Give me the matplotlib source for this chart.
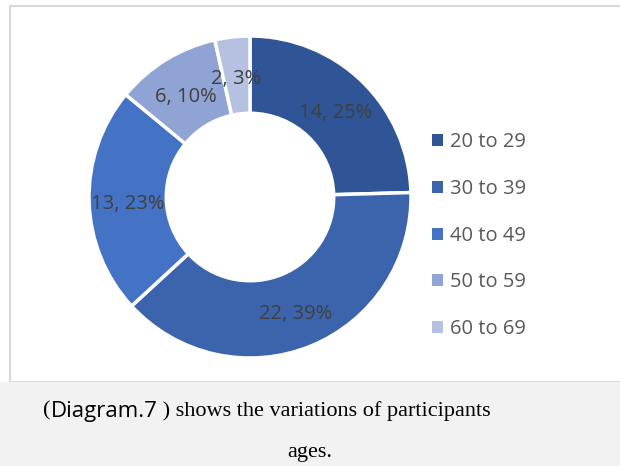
import matplotlib.pyplot as plt
from matplotlib.patches import Rectangle

# data
groups = ["20 to 29", "30 to 39", "40 to 49", "50 to 59", "60 to 69"]
counts = [14, 22, 13, 6, 2]
pcts = [25, 39, 23, 10, 3]
colors = ["#2f5597", "#3b64ad", "#4472c4", "#8fa3d4", "#b6c1e1"]

W, H = 620, 466
fig = plt.figure(figsize=(W / 100, H / 100), dpi=100)
fig.patch.set_facecolor("white")

# chart frame and caption band (behind the axes)
fig.add_artist(Rectangle((10 / W, 1 - 382 / H), 1, 376 / H, transform=fig.transFigure,
                         facecolor="white", edgecolor="#d9d9d9", linewidth=1.5, zorder=-2))
fig.add_artist(Rectangle((0, 0), 1, 1 - 382 / H, transform=fig.transFigure,
                         facecolor="#f2f2f2", edgecolor="none", zorder=-1))

# donut: center ~ (250,197), outer radius ~161 px
cx, cy, r = 250, 197, 161
ax = fig.add_axes([(cx - r) / W, 1 - (cy + r) / H, 2 * r / W, 2 * r / H])
ax.patch.set_visible(False)
labels = [f"{c}, {p}%" for c, p in zip(counts, pcts)]
wedges, texts = ax.pie(counts, colors=colors, startangle=90, counterclock=False,
                       labels=labels, labeldistance=0.76,
                       wedgeprops=dict(width=0.48, edgecolor="white", linewidth=2.5),
                       textprops=dict(color="#404040", fontsize=14.5, family="Open Sans",
                                      ha="center", va="center"))
for t in texts:
    t.set_ha("center")
    px, py = t.get_position()
    t.set_position((px, py - 0.025))
ax.set_xlim(-1, 1)
ax.set_ylim(-1, 1)
ax.set_aspect("equal")
ax.axis("off")

# legend
leg = fig.legend(wedges, groups, loc="upper left", bbox_to_anchor=(414 / W, 1 - 114 / H),
                 frameon=False, handlelength=0.55, handleheight=0.55, handletextpad=0.35,
                 labelspacing=1.33, prop=dict(family="Open Sans", size=14.5))
for t in leg.get_texts():
    t.set_color("#595959")
for h in leg.legend_handles:
    h.set_edgecolor("none")

# caption: mixed fonts on one line
fig.canvas.draw()
rend = fig.canvas.get_renderer()
parts = [("(", "Liberation Serif"), ("Diagram.7", "Open Sans"),
         (" ) shows the variations of participants", "Liberation Serif")]
objs = []
for s, fam in parts:
    objs.append(fig.text(0, 1 - 411 / H, s, family=fam, fontsize=16, color="black",
                         va="center", ha="left"))
widths = [o.get_window_extent(rend).width for o in objs]
x = 267 - sum(widths) / 2
for o, w in zip(objs, widths):
    o.set_x(x / W)
    x += w
fig.text(310 / W, 1 - 453 / H, "ages.", family="Liberation Serif", fontsize=16,
         ha="center", va="center")

fig.savefig("out.png", dpi=100)
